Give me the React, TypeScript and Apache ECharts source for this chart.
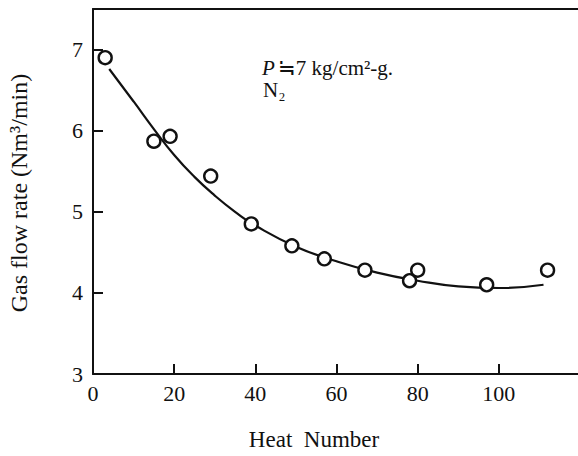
import React, { useEffect, useRef } from "react";
import * as echarts from "echarts";

// Measured points
const heatNumber = [3, 15, 19, 29, 39, 49, 57, 67, 78, 80, 97, 112];
const gasFlow = [6.9, 5.87, 5.93, 5.44, 4.85, 4.58, 4.42, 4.28, 4.15, 4.28, 4.1, 4.28];

// Hand-drawn trend curve
const curveX = [4, 10, 15, 20, 25, 30, 35, 40, 50, 60, 70, 80, 90, 100, 111];
const curveY = [6.76, 6.36, 6.02, 5.7, 5.43, 5.2, 5.0, 4.83, 4.57, 4.39, 4.25, 4.15, 4.08, 4.06, 4.1];

// Tick labels
const xTicks = [0, 20, 40, 60, 80, 100];
const yTicks = [3, 4, 5, 6, 7];

const xTitle = "Heat  Number";
const yTitle = "Gas flow rate (Nm³/min)";
const note1 = "{i|P}≒7 kg/cm²-g.";
const note2 = "N₂";

const FONT = "Liberation Serif";
const INK = "#111";

export default function App() {
  const ref = useRef<HTMLDivElement>(null);
  useEffect(() => {
    if (!ref.current) return;
    const chart = echarts.init(ref.current, undefined, { renderer: "svg" });
    chart.setOption({
      animation: false,
      backgroundColor: "#fff",
      textStyle: { fontFamily: FONT, color: INK, fontSize: 22 },
      grid: { left: 93, right: 0, top: 9, bottom: 82 },
      xAxis: [
        {
          type: "value",
          min: 0,
          max: 119.5,
          interval: 20,
          position: "bottom",
          axisLine: { show: true, lineStyle: { color: INK, width: 2 } },
          axisTick: {
            show: true,
            inside: true,
            length: 10,
            customValues: xTicks.slice(1),
            lineStyle: { color: INK, width: 2 },
          },
          axisLabel: {
            show: true,
            showMaxLabel: false,
            formatter: (v: number) => (xTicks.indexOf(v) >= 0 ? String(v) : ""),
            margin: 8,
            color: INK,
            fontFamily: FONT,
            fontSize: 22,
          },
          splitLine: { show: false },
        },
        {
          type: "value",
          min: 0,
          max: 119.5,
          position: "top",
          axisLine: { show: true, lineStyle: { color: INK, width: 2 } },
          axisTick: { show: false },
          axisLabel: { show: false },
          splitLine: { show: false },
        },
      ],
      yAxis: {
        type: "value",
        min: 3,
        max: 7.5,
        interval: 1,
        axisLine: { show: true, lineStyle: { color: INK, width: 2 } },
        axisTick: {
          show: true,
          inside: true,
          length: 10,
          customValues: yTicks.slice(1),
          lineStyle: { color: INK, width: 2 },
        },
        axisLabel: {
          show: true,
          showMaxLabel: false,
          formatter: (v: number) => (yTicks.indexOf(v) >= 0 ? String(v) : ""),
          margin: 10,
          color: INK,
          fontFamily: FONT,
          fontSize: 22,
        },
        splitLine: { show: false },
      },
      series: [
        {
          type: "line",
          data: curveX.map((x, i) => [x, curveY[i]]),
          smooth: 0.5,
          showSymbol: false,
          symbol: "none",
          lineStyle: { color: INK, width: 2.2 },
          z: 2,
        },
        {
          type: "scatter",
          data: heatNumber.map((x, i) => [x, gasFlow[i]]),
          symbol: "circle",
          symbolSize: 13,
          itemStyle: { color: "#fff", borderColor: INK, borderWidth: 2.4, opacity: 1 },
          z: 3,
        },
      ],
      graphic: [
        {
          type: "text",
          x: 314,
          y: 439,
          style: {
            text: xTitle,
            fill: INK,
            fontFamily: FONT,
            fontSize: 23,
            align: "center",
            verticalAlign: "middle",
          },
        },
        {
          type: "text",
          x: 19,
          y: 193,
          rotation: Math.PI / 2,
          style: {
            text: yTitle,
            fill: INK,
            fontFamily: FONT,
            fontSize: 24,
            align: "center",
            verticalAlign: "middle",
          },
        },
        {
          type: "text",
          x: 262,
          y: 68,
          style: {
            text: note1,
            fill: INK,
            fontFamily: FONT,
            fontSize: 21,
            align: "left",
            verticalAlign: "middle",
            rich: {
              i: {
                fontStyle: "italic",
                fontFamily: FONT,
                fontSize: 21,
                fill: INK,
                padding: [0, 3, 0, 0],
              },
            },
          },
        },
        {
          type: "text",
          x: 263,
          y: 90,
          style: {
            text: note2,
            fill: INK,
            fontFamily: FONT,
            fontSize: 21,
            align: "left",
            verticalAlign: "middle",
          },
        },
      ],
    });
    return () => chart.dispose();
  }, []);
  return (
    <div
      ref={ref}
      style={{ position: "absolute", left: 0, top: 0, width: 578, height: 456 }}
    />
  );
}
